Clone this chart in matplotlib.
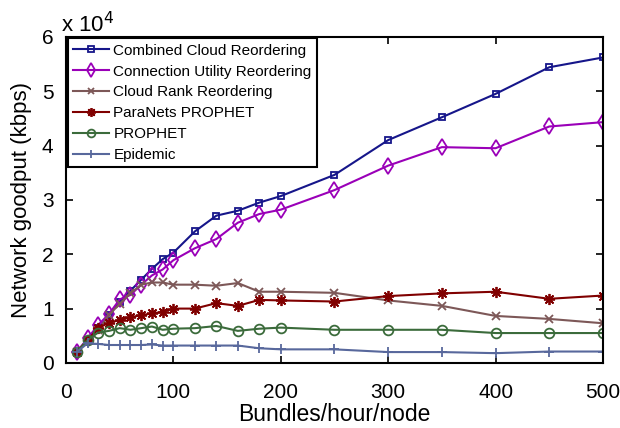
import numpy as np
import matplotlib
matplotlib.use("Agg")
import matplotlib.pyplot as plt

# Bundles/hour/node
rates = [10, 20, 30, 40, 50, 60, 70, 80, 90, 100, 120, 140, 160, 180, 200,
         250, 300, 350, 400, 450, 500]

# Network goodput, in units of 10^4 kbps
combined_cloud = [0.21, 0.42, 0.64, 0.88, 1.13, 1.33, 1.53, 1.73, 1.91, 2.03,
                  2.42, 2.71, 2.80, 2.95, 3.07, 3.46, 4.10, 4.52, 4.95, 5.44, 5.62]
connection_utility = [0.20, 0.45, 0.70, 0.90, 1.17, 1.25, 1.44, 1.61, 1.72, 1.89,
                      2.11, 2.28, 2.58, 2.74, 2.82, 3.18, 3.63, 3.97, 3.95, 4.35, 4.43]
cloud_rank = [0.20, 0.42, 0.61, 0.88, 1.09, 1.28, 1.44, 1.48, 1.48, 1.44,
              1.44, 1.42, 1.47, 1.31, 1.31, 1.29, 1.15, 1.05, 0.865, 0.81, 0.73]
paranets = [0.20, 0.42, 0.64, 0.74, 0.79, 0.84, 0.88, 0.91, 0.94, 1.00,
            1.00, 1.10, 1.05, 1.16, 1.15, 1.13, 1.23, 1.28, 1.31, 1.18, 1.24]
prophet = [0.20, 0.42, 0.56, 0.59, 0.64, 0.61, 0.64, 0.67, 0.61, 0.63,
           0.64, 0.68, 0.59, 0.63, 0.65, 0.61, 0.61, 0.61, 0.55, 0.55, 0.55]
epidemic = [0.20, 0.36, 0.35, 0.33, 0.33, 0.33, 0.33, 0.34, 0.32, 0.32,
            0.32, 0.32, 0.32, 0.27, 0.25, 0.25, 0.20, 0.20, 0.18, 0.21, 0.21]

# MATLAB-like asterisk: plus and cross spokes
asterisk = (8, 2, 0)

series = [
    ("Combined Cloud Reordering", combined_cloud, "#16168a", "s", 5),
    ("Connection Utility Reordering", connection_utility, "#9a00b8", "d", 8.5),
    ("Cloud Rank Reordering", cloud_rank, "#7d5858", "x", 6),
    ("ParaNets PROPHET", paranets, "#800000", asterisk, 8),
    ("PROPHET", prophet, "#3b6b3b", "o", 7),
    ("Epidemic", epidemic, "#58689c", "+", 7),
]

plt.rcParams["font.family"] = ["Liberation Sans", "DejaVu Sans"]

fig = plt.figure(figsize=(6.2, 4.28), dpi=100)
ax = fig.add_axes([0.1065, 0.152, 0.866, 0.762])

for label, vals, color, marker, ms in series:
    ax.plot(rates, vals, color=color, marker=marker, markersize=ms,
            markerfacecolor="none", markeredgecolor=color, markeredgewidth=1.3,
            linewidth=1.5, label=label)

ax.set_xlim(0, 500)
ax.set_ylim(0, 6)
ax.set_xticks([0, 100, 200, 300, 400, 500])
ax.set_yticks([0, 1, 2, 3, 4, 5, 6])
ax.tick_params(direction="in", top=True, right=True, labelsize=15, length=5,
               width=1.2)
ax.tick_params(axis="x", pad=14.5)
ax.tick_params(axis="y", pad=9)
for sp in ax.spines.values():
    sp.set_linewidth(1.5)

ax.set_xlabel("Bundles/hour/node", fontsize=16.5, labelpad=1)
ax.set_ylabel("Network goodput (kbps)", fontsize=16, labelpad=7)
ax.text(-0.009, 1.015, "x 10$^4$", transform=ax.transAxes, fontsize=16,
        ha="left", va="baseline")

leg = ax.legend(loc="upper left", fontsize=11, frameon=True, fancybox=False,
                borderpad=0.35, labelspacing=0.45, handlelength=2.35,
                handletextpad=0.3, borderaxespad=0.1, markerscale=0.8)
leg.get_frame().set_edgecolor("black")
leg.get_frame().set_linewidth(1.5)
leg.get_frame().set_alpha(1)

fig.savefig("out.png", dpi=100)
